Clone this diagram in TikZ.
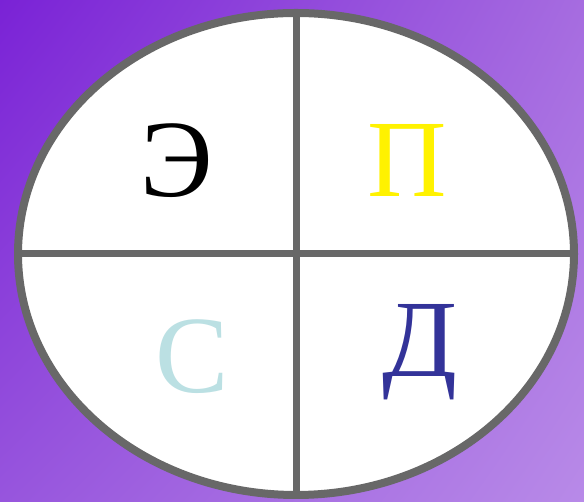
\documentclass[tikz,border=0pt]{standalone}
\usepackage{fontspec}
\setmainfont{Liberation Serif}
\usetikzlibrary{shadings}
\definecolor{ringgray}{HTML}{686868}
\definecolor{bgUL}{HTML}{7A22D6}
\definecolor{bgUR}{HTML}{A66CE0}
\definecolor{bgLL}{HTML}{9755DD}
\definecolor{bgLR}{HTML}{B88AE8}
\definecolor{letC}{HTML}{BBE0E3}
\definecolor{letD}{HTML}{333399}
\tikzset{letter/.style={anchor=base, inner sep=0pt, font=\fontsize{110}{110}\selectfont}}
\begin{document}
\begin{tikzpicture}[x=1pt,y=1pt]
\useasboundingbox (0,0) rectangle (584,502);
\shade[upper left=bgUL, upper right=bgUR, lower left=bgLL, lower right=bgLR] (0,0) rectangle (584,502);
\coordinate (c) at (296,248);
\fill[white] (c) ellipse [x radius=278, y radius=241];
\draw[ringgray, line width=7] (296,7) -- (296,489);
\draw[ringgray, line width=7] (18,248) -- (574,248);
\draw[ringgray, line width=8] (c) ellipse [x radius=278, y radius=241];
\node[letter, text=black] (e) at (177,305) {Э};
\node[letter, text=yellow] (p) at (407,305) {П};
\node[letter, text=letC] (s) at (192,109) {С};
\node[letter, text=letD] (d) at (420,125) {Д};
\end{tikzpicture}
\end{document}
